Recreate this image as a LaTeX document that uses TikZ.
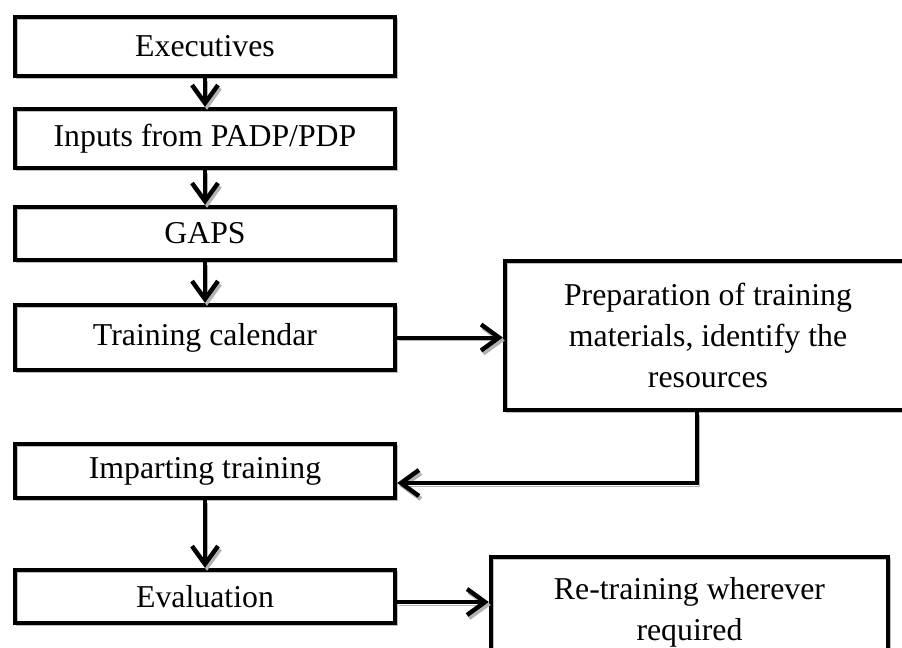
\documentclass[tikz,border=0pt]{standalone}
\usepackage{fontspec}
\setmainfont{Liberation Serif}
\usetikzlibrary{arrows.meta}

\tikzset{
  box/.style={draw,line width=2.2pt,minimum width=190pt,inner sep=2pt,align=center,
    font=\fontsize{15.9pt}{20.5pt}\selectfont,
    preaction={draw=gray!50,line width=1pt,transform canvas={xshift=0.8pt,yshift=-0.8pt}}},
  flow/.style={line width=2pt,-{Straight Barb[length=9pt,width=13pt,line width=2.2pt]},
    preaction={draw=gray!60,transform canvas={xshift=1pt,yshift=-1.5pt}}}
}

\begin{document}
\begin{tikzpicture}[x=0.5pt,y=-0.5pt]
      \useasboundingbox (0,0) rectangle (902,648);
      \clip (0,0) rectangle (902,648);
      \node[box,minimum height=29.5pt] (exec) at (205,46.5) {Executives};
      \node[box,minimum height=29.5pt] (inputs) at (205,138.5) {Inputs from PADP/PDP};
      \node[box,minimum height=26.5pt] (gaps) at (205,233.5) {GAPS};
      \node[box,minimum height=32.5pt] (cal) at (205,337.5) {Training calendar};
      \node[box,minimum width=203pt,minimum height=74.5pt] (prep) at (708,335.5)
        {Preparation of training\\materials, identify the\\resources};
      \node[box,minimum height=27pt] (impart) at (205,471) {Imparting training};
      \node[box,minimum height=26.5pt] (eval) at (205,596.5) {Evaluation};
      \node[box,minimum width=198.5pt,minimum height=55.5pt] (retrain) at (689.5,612.5)
        {Re-training wherever\\required};
      \coordinate (turn) at (697,483);
      %\draw[flow] (cal) -- (prep);
      \draw[flow] (exec.south) -- (inputs.north);
      \draw[flow] (inputs.south) -- (gaps.north);
      \draw[flow] (gaps.south) -- (cal.north);
      \draw[flow] (cal.east) -- (prep.west |- cal.east);
      \draw[flow] (prep.south -| turn) -- (turn) -- (impart.east |- turn);
      \draw[flow] (impart.south) -- (eval.north);
      \draw[flow] ([yshift=-2.75pt]eval.east) -- ([yshift=-2.75pt]eval.east -| retrain.west);
    \end{tikzpicture}
\end{document}
